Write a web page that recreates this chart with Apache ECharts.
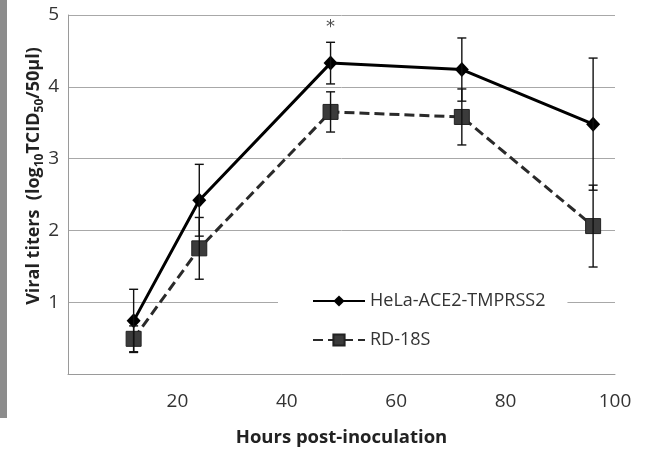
<!DOCTYPE html>
<html lang="en">

<head>
  <meta charset="UTF-8">
  <title>Viral titers</title>
  <script src="https://cdn.jsdelivr.net/npm/echarts@6/dist/echarts.min.js"></script>
  <style>
    * {
      padding: 0;
      margin: 0;
    }

    #box {
      width: 646px;
      height: 456px;
      background: #fff;
    }
  </style>
</head>

<body>
  <div id="box"></div>
  <script>
    // values
    var hours = [12, 24, 48, 72, 96]
    var helaMean = [0.74, 2.42, 4.33, 4.24, 3.48]
    var helaErr = [0.44, 0.50, 0.29, 0.44, 0.92]
    var rdMean = [0.49, 1.75, 3.65, 3.58, 2.06]
    var rdErr = [0.18, 0.43, 0.28, 0.39, 0.57]
    var seriesNames = ['HeLa-ACE2-TMPRSS2', 'RD-18S']
    var starAt = [48, 4.83]

    var FONT = 'Open Sans'

    function pairs(xs, ys) {
      var out = []
      for (var i = 0; i < xs.length; i++) out.push([xs[i], ys[i]])
      return out
    }
    function bars(xs, ys, es) {
      var out = []
      for (var i = 0; i < xs.length; i++) out.push([xs[i], ys[i] - es[i], ys[i] + es[i]])
      return out
    }

    // whisker with caps
    function errorBar(params, api) {
      var x = api.value(0)
      var lo = api.coord([x, api.value(1)])
      var hi = api.coord([x, api.value(2)])
      var w = 4.5
      var st = { stroke: '#111', lineWidth: 1.4 }
      return {
        type: 'group',
        children: [
          { type: 'line', shape: { x1: lo[0], y1: lo[1], x2: hi[0], y2: hi[1] }, style: st },
          { type: 'line', shape: { x1: lo[0] - w, y1: lo[1], x2: lo[0] + w, y2: lo[1] }, style: st },
          { type: 'line', shape: { x1: hi[0] - w, y1: hi[1], x2: hi[0] + w, y2: hi[1] }, style: st }
        ]
      }
    }

    var mCharts = echarts.init(document.getElementById('box'))
    var option = {
      animation: false,
      textStyle: { fontFamily: FONT },
      grid: { left: 68, top: 15, right: 31, bottom: 82 },
      legend: {
        orient: 'vertical',
        left: 278,
        top: 287,
        padding: [5, 22, 8, 34],
        itemGap: 21,
        itemWidth: 52,
        itemHeight: 14,
        backgroundColor: '#fff',
        textStyle: { fontFamily: FONT, fontSize: 18, color: '#333' },
        data: seriesNames
      },
      xAxis: {
        type: 'value',
        min: 0,
        max: 100,
        interval: 20,
        name: 'Hours post-inoculation',
        nameLocation: 'middle',
        nameGap: 54,
        nameTextStyle: { fontFamily: FONT, fontSize: 18.5, fontWeight: 'bold', color: '#222' },
        axisLine: { lineStyle: { color: '#9a9a9a', width: 1 } },
        axisTick: { show: false },
        splitLine: { show: false },
        axisLabel: {
          margin: 18,
          fontSize: 19,
          color: '#333',
          formatter: function (v) { return v === 0 ? '' : v }
        }
      },
      yAxis: {
        type: 'value',
        min: 0,
        max: 5,
        interval: 1,
        axisLine: { show: true, lineStyle: { color: '#9a9a9a', width: 1 } },
        axisTick: { show: false },
        splitLine: { lineStyle: { color: '#a8a8a8', width: 1 } },
        axisLabel: {
          margin: 9,
          fontSize: 19,
          color: '#333',
          formatter: function (v) { return v === 0 ? '' : v }
        }
      },
      graphic: [
        { type: 'rect', left: 0, top: 0, shape: { width: 7, height: 418 }, style: { fill: '#8c8c8c' } },
        {
          type: 'text',
          x: 34,
          y: 176,
          rotation: Math.PI / 2,
          style: {
            text: '{a|Viral titers  (log}{s|10}{a|TCID}{s|50}{a|/50µl)}',
            align: 'center',
            verticalAlign: 'middle',
            rich: {
              a: { fontFamily: FONT, fontSize: 18, fontWeight: 'bold', fill: '#222', lineHeight: 24, verticalAlign: 'middle' },
              s: { fontFamily: FONT, fontSize: 12, fontWeight: 'bold', fill: '#222', lineHeight: 24, verticalAlign: 'bottom', padding: [9, 0, 0, 0] }
            }
          }
        }
      ],
      series: [
        {
          name: seriesNames[0],
          type: 'line',
          data: pairs(hours, helaMean),
          symbol: 'diamond',
          symbolSize: [14, 15],
          itemStyle: { color: '#000' },
          lineStyle: { color: '#000', width: 3 },
          z: 3
        },
        {
          name: seriesNames[1],
          type: 'line',
          data: pairs(hours, rdMean),
          symbol: 'rect',
          symbolSize: 15,
          itemStyle: { color: '#3b3b3b', borderColor: '#222', borderWidth: 1 },
          lineStyle: { color: '#2a2a2a', width: 3, type: [10, 5] },
          z: 2
        },
        {
          type: 'custom',
          renderItem: errorBar,
          data: bars(hours, helaMean, helaErr),
          z: 4
        },
        {
          type: 'custom',
          renderItem: errorBar,
          data: bars(hours, rdMean, rdErr),
          z: 4
        },
        {
          type: 'scatter',
          data: [starAt],
          symbolSize: 0,
          label: {
            show: true,
            position: 'inside',
            formatter: '*',
            fontSize: 18,
            color: '#222',
            fontFamily: 'DejaVu Sans'
          }
        }
      ]
    }
    mCharts.setOption(option)
  </script>
</body>

</html>
